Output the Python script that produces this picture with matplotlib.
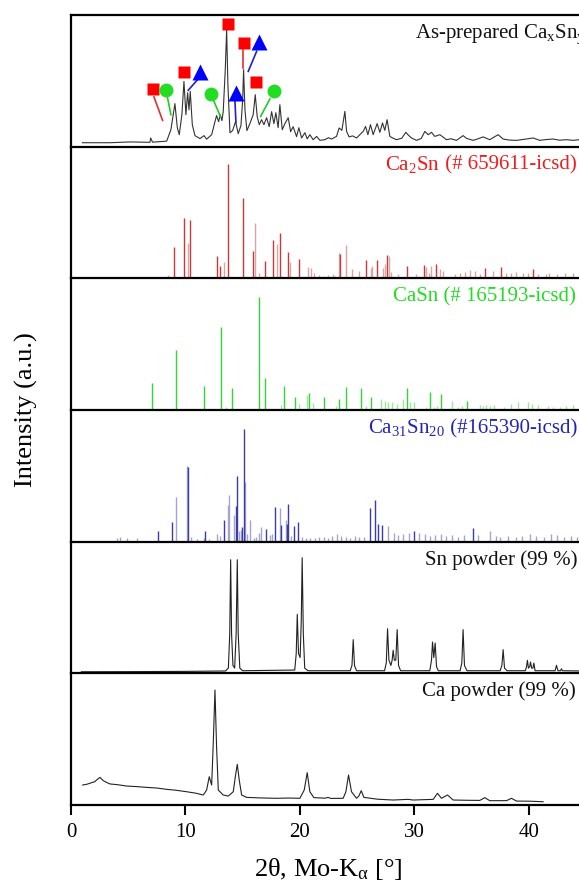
import matplotlib
matplotlib.use('Agg')
import matplotlib.pyplot as plt

plt.rcParams['font.family'] = ['Liberation Serif', 'DejaVu Serif']
plt.rcParams['mathtext.fontset'] = 'custom'
plt.rcParams['mathtext.rm'] = 'Liberation Serif'
plt.rcParams['mathtext.it'] = 'Liberation Serif:italic'

# --- as-prepared CaxSny pattern (2theta, intensity) ---
asprep = [(1.0, 3.0), (3.4, 3.0), (5.2, 3.6), (6.9, 3.3), (6.96, 6.6), (7.13, 3.4), (8.36, 4.2), (8.73, 12.9),
          (9.08, 32.7), (9.29, 14.4), (9.46, 9.1), (9.69, 24.3), (9.87, 49.6), (10.04, 24.3), (10.19, 41.0),
          (10.31, 28.0), (10.42, 42.0), (10.6, 16.7), (10.83, 8.4), (11.27, 6.1), (11.62, 8.4), (11.85, 5.7),
          (12.29, 9.1), (12.58, 19.0), (12.72, 23.6), (12.9, 19.0), (13.04, 24.3), (13.19, 19.8), (13.3, 26.6),
          (13.48, 58.5), (13.6, 88.9), (13.71, 47.1), (13.89, 10.6), (14.12, 12.2), (14.38, 19.0), (14.61, 9.9),
          (14.85, 16.0), (15.0, 35.7), (15.08, 58.5), (15.2, 28.0), (15.37, 12.2), (15.63, 17.5), (15.92, 24.3),
          (16.1, 39.5), (16.27, 22.8), (16.45, 16.7), (16.65, 20.5), (16.86, 16.7), (17.09, 22.0), (17.32, 15.2),
          (17.53, 26.6), (17.73, 17.5), (17.9, 25.8), (18.1, 14.4), (18.25, 31.9), (18.46, 12.9), (18.69, 17.5),
          (18.98, 22.0), (19.19, 11.4), (19.41, 15.2), (19.71, 7.6), (19.91, 14.4), (20.15, 6.6), (20.44, 10.6),
          (20.64, 5.9), (20.87, 9.1), (21.16, 5.3), (21.46, 7.8), (21.75, 4.8), (22.18, 5.3), (22.5, 6.8),
          (22.77, 5.8), (23.2, 7.8), (23.43, 14.2), (23.67, 12.4), (23.93, 26.8), (24.08, 11.6), (24.3, 7.4),
          (24.6, 8.2), (24.95, 6.6), (25.53, 11.6), (25.74, 15.4), (25.94, 9.1), (26.17, 16.7), (26.4, 9.1),
          (26.75, 17.5), (26.99, 10.9), (27.22, 18.0), (27.42, 12.4), (27.62, 20.5), (27.86, 7.8), (28.1, 6.6),
          (28.44, 5.3), (28.9, 6.4), (29.26, 10.9), (29.46, 8.9), (29.75, 6.6), (30.19, 4.8), (30.6, 6.2),
          (30.92, 11.6), (31.21, 9.1), (31.5, 10.9), (31.79, 7.8), (32.23, 9.1), (32.81, 5.3), (33.2, 6.0),
          (33.68, 4.8), (34.26, 8.4), (34.56, 6.3), (35.14, 4.8), (35.5, 5.8), (36.01, 7.4), (36.59, 5.3),
          (37.32, 9.1), (37.76, 5.8), (38.3, 5.0), (38.93, 4.8), (39.6, 5.6), (40.38, 6.6), (40.96, 4.8),
          (41.5, 5.4), (42.12, 5.8), (42.7, 4.9), (43.29, 5.3), (43.9, 4.8), (44.6, 5.5)]

# phase markers (square = Ca2Sn, circle = CaSn, triangle = Ca31Sn20)
sq_x = [7.13, 9.87, 13.69, 15.1, 16.16]
sq_y = [43.8, 56.5, 93.5, 78.8, 48.9]
circ_x = [8.3, 12.2, 17.73]
circ_y = [43.3, 40.0, 42.0]
tri_x = [11.27, 14.38, 16.42]
tri_y = [56.5, 40.8, 79.3]
red_leads = [[(7.25, 37.8), (8.0, 20.0)], [(15.05, 73.7), (15.05, 59.8)]]
green_leads = [[(8.41, 38.2), (8.73, 24.3)], [(12.43, 35.7), (13.07, 22.6)], [(17.38, 36.2), (16.57, 23.0)]]
blue_leads = [[(11.06, 50.9), (10.24, 42.8)], [(14.32, 36.2), (14.41, 18.5)], [(16.22, 72.4), (15.49, 57.2)]]

# --- reference stick patterns (position, rel. intensity) ---
ca2sn_main = [(9.03, 23.8), (9.87, 46.1), (10.42, 44.3), (12.78, 16.7), (13.04, 9.6), (13.74, 86.6),
              (15.05, 60.8), (15.92, 20.8), (16.97, 13.2), (17.67, 29.4), (18.28, 34.2), (18.93, 20.3),
              (19.94, 14.7), (23.49, 18.5), (25.74, 14.2), (26.75, 14.0), (27.57, 17.5), (29.37, 9.4),
              (30.86, 9.9), (31.88, 10.6), (36.16, 8.0), (37.61, 8.4), (40.38, 7.3)]
ca2sn_faint = [(8.44, 2.3), (10.25, 27.1), (13.33, 12.4), (16.07, 41.8), (16.39, 3.8), (17.96, 25.8),
               (19.13, 12.4), (20.7, 8.9), (20.96, 7.6), (21.22, 3.8), (21.7, 2.5), (22.1, 1.5), (22.5, 2.5),
               (22.9, 3.0), (23.1, 2.0), (23.38, 19.5), (24.02, 25.3), (24.51, 6.8), (25.15, 5.3), (26.17, 8.0),
               (26.32, 9.0), (27.28, 8.0), (27.42, 11.0), (27.75, 16.7), (28.0, 5.0), (28.6, 3.0), (30.13, 3.0),
               (31.06, 8.9), (31.3, 4.0), (31.5, 9.4), (32.23, 7.0), (32.52, 5.6), (33.54, 3.0), (33.97, 4.3),
               (34.41, 4.8), (34.85, 6.3), (35.28, 5.5), (35.7, 3.0), (36.88, 5.5), (38.05, 4.3), (38.49, 3.8),
               (38.92, 5.0), (39.5, 4.3), (39.94, 3.8), (40.8, 3.5), (41.5, 3.0), (41.8, 3.8), (42.5, 3.5),
               (43.2, 4.3), (43.9, 3.8)]

casn_main = [(7.04, 20.3), (9.14, 45.8), (11.64, 18.5), (13.07, 63.3), (14.09, 16.7), (16.45, 85.6),
             (16.91, 24.3), (18.63, 18.5), (19.59, 10.0), (20.81, 12.7), (22.07, 9.6), (23.43, 8.1),
             (24.02, 17.7), (25.3, 16.7), (26.23, 10.1), (29.32, 16.7), (31.35, 13.4), (32.37, 12.2),
             (34.61, 7.1)]
casn_faint = [(13.51, 2.5), (18.34, 4.0), (19.94, 4.6), (20.58, 11.4), (21.16, 5.6), (23.15, 3.3), (25.76, 3.3),
              (27.13, 8.1), (27.42, 7.1), (27.71, 6.1), (28.06, 6.1), (28.52, 4.6), (29.02, 8.4), (29.61, 5.8),
              (29.96, 5.8), (31.0, 2.5), (31.7, 2.5), (32.0, 3.0), (33.25, 6.6), (33.8, 2.5), (34.2, 3.0),
              (35.7, 3.5), (36.0, 3.0), (36.3, 3.5), (36.6, 3.0), (37.0, 3.5), (37.8, 2.5), (38.49, 4.6),
              (39.07, 5.8), (39.94, 5.8), (40.32, 4.6), (40.81, 4.1), (41.69, 3.3), (42.12, 2.5), (42.71, 2.5),
              (43.29, 3.3), (43.87, 4.1)]

ca31sn20_main = [(7.63, 8.4), (8.82, 15.0), (10.22, 56.5), (11.73, 7.8), (13.39, 16.7), (14.41, 26.8),
                 (14.53, 50.1), (14.96, 11.4), (15.14, 85.6), (17.03, 9.6), (17.85, 26.1), (18.39, 13.0),
                 (18.84, 13.4), (18.98, 28.6), (19.5, 12.2), (19.85, 14.7), (26.11, 25.6), (26.55, 31.6),
                 (26.86, 13.4), (27.16, 12.9), (29.95, 8.4), (35.14, 10.4)]
ca31sn20_faint = [(4.0, 3.0), (4.3, 3.5), (4.9, 2.5), (5.8, 3.0), (9.14, 33.7), (10.1, 57.7), (10.5, 3.8),
                  (11.0, 2.0), (11.6, 3.0), (12.1, 2.0), (12.72, 5.8), (13.01, 4.6), (13.68, 27.8), (13.77, 35.4),
                  (14.26, 20.5), (14.7, 8.4), (14.85, 8.9), (15.23, 45.6), (15.35, 5.8), (15.6, 16.7),
                  (15.95, 2.8), (16.2, 3.8), (16.45, 6.3), (16.59, 11.4), (17.4, 5.3), (17.6, 5.8), (18.22, 25.6),
                  (18.75, 16.5), (19.2, 4.6), (20.2, 3.8), (20.5, 2.5), (20.9, 3.0), (21.3, 2.5), (21.7, 3.3),
                  (22.1, 3.8), (22.5, 3.0), (22.8, 4.6), (23.2, 5.8), (23.6, 4.3), (24.0, 3.8), (24.4, 3.0),
                  (24.8, 4.6), (25.2, 3.3), (25.6, 3.8), (27.74, 12.2), (28.2, 6.3), (28.6, 5.3), (29.0, 6.1),
                  (29.5, 6.3), (30.38, 6.3), (30.96, 5.8), (31.4, 4.3), (31.8, 4.8), (32.3, 5.6), (32.8, 4.1),
                  (33.3, 5.3), (33.8, 3.3), (34.3, 4.8), (35.6, 5.3), (36.59, 7.8), (37.1, 4.3), (37.5, 3.8),
                  (38.2, 4.6), (38.9, 3.5), (39.4, 4.6), (40.1, 5.8), (40.6, 4.3), (41.3, 3.8), (41.9, 5.8),
                  (42.5, 4.8), (43.1, 3.5), (43.7, 4.6), (44.2, 3.3)]

# --- Sn powder pattern ---
sn_powder = [(0.9, 1.2), (5.0, 1.3), (10.0, 1.5), (13.5, 1.8), (13.75, 4.0), (13.87, 30.0), (13.95, 86.3),
             (14.03, 30.0), (14.15, 6.0), (14.3, 4.0), (14.43, 30.0), (14.53, 86.3), (14.61, 30.0),
             (14.75, 4.0), (15.0, 2.0), (19.55, 2.5), (19.68, 15.0), (19.77, 44.8), (19.88, 15.0),
             (20.02, 12.0), (20.12, 40.0), (20.2, 87.8), (20.3, 30.0), (20.42, 4.0), (20.7, 2.0), (24.4, 2.0),
             (24.55, 6.0), (24.66, 25.6), (24.77, 6.0), (24.95, 2.0), (27.4, 2.0), (27.55, 8.0), (27.66, 33.9),
             (27.78, 10.0), (27.95, 6.0), (28.06, 10.0), (28.15, 17.5), (28.25, 10.0), (28.38, 10.0),
             (28.5, 33.2), (28.62, 6.0), (28.8, 2.0), (31.35, 2.0), (31.5, 10.0), (31.59, 23.8), (31.7, 12.0),
             (31.82, 23.0), (31.94, 5.0), (32.1, 2.0), (34.0, 2.0), (34.15, 8.0), (34.26, 33.2), (34.38, 6.0),
             (34.6, 2.0), (37.5, 2.0), (37.65, 6.0), (37.76, 18.0), (37.88, 4.0), (38.1, 2.0), (39.7, 2.0),
             (39.8, 5.0), (39.88, 9.9), (39.97, 4.0), (40.08, 5.0), (40.15, 8.6), (40.25, 4.0), (40.36, 4.0),
             (40.44, 7.8), (40.55, 2.0), (42.3, 2.0), (42.42, 6.1), (42.55, 2.0), (42.78, 2.0), (42.85, 3.5),
             (42.95, 2.0), (44.6, 1.8)]

# --- Ca powder pattern ---
ca_powder = [(1.02, 15.2), (1.4, 15.8), (1.81, 17.0), (2.05, 17.6), (2.24, 19.0), (2.53, 21.0), (2.82, 18.5),
             (3.1, 17.2), (3.41, 16.0), (4.1, 15.4), (4.86, 14.4), (5.7, 14.0), (6.61, 13.4), (7.5, 12.9),
             (8.36, 11.9), (9.2, 11.2), (10.1, 10.1), (10.9, 9.0), (11.56, 7.6), (11.85, 11.4), (12.08, 21.5),
             (12.29, 15.2), (12.43, 46.8), (12.58, 87.3), (12.72, 44.3), (12.87, 11.4), (13.3, 7.6), (13.74, 6.8),
             (14.18, 10.1), (14.38, 22.8), (14.53, 30.9), (14.7, 19.0), (14.91, 7.6), (15.34, 5.8), (16.5, 5.4),
             (17.96, 5.1), (19.0, 5.3), (20.0, 5.1), (20.38, 11.4), (20.64, 24.6), (20.87, 10.1), (21.22, 5.6),
             (22.2, 5.2), (22.47, 5.8), (22.7, 5.0), (23.78, 5.1), (24.02, 10.1), (24.25, 22.8), (24.51, 10.1),
             (24.95, 5.1), (25.15, 6.8), (25.36, 10.9), (25.59, 5.8), (26.8, 4.4), (28.15, 3.8), (29.46, 4.3),
             (29.9, 3.8), (31.65, 4.3), (32.02, 8.9), (32.37, 5.1), (32.9, 7.6), (33.39, 3.8), (34.6, 3.6),
             (35.72, 3.5), (36.16, 5.6), (36.59, 3.3), (38.05, 3.3), (38.49, 5.1), (38.93, 3.0), (40.1, 2.9),
             (41.25, 2.5)]

# panel labels: formula part (mathtext) + plain part
label_formula = ['As-prepared Ca$_\\mathrm{x}$Sn$_\\mathrm{y}$',
                 'Ca$_\\mathrm{2}$Sn',
                 'CaSn (# 165193-icsd)',
                 'Ca$_\\mathrm{31}$Sn$_\\mathrm{20}$',
                 'Sn powder (99 %)',
                 'Ca powder (99 %)']
label_rest = ['', ' (# 659611-icsd)', '', ' (#165390-icsd)', '', '']
label_x = [30.1, 27.4, 28.15, 25.97, 30.9, 30.7]
label_colors = ['#111111', '#ee1c1c', '#22dd22', '#2424b4', '#111111', '#111111']

fig = plt.figure(figsize=(5.79, 8.89), dpi=100)
W, H = 579.0, 889.0
left, width = 71 / W, 515 / W
top_px, panel_px = 15.0, 131.67
axes = []
first_parts = []
for i in range(6):
    bottom = 1 - (top_px + panel_px * (i + 1)) / H
    ax = fig.add_axes([left, bottom, width, panel_px / H])
    ax.set_xlim(0, 45)
    ax.set_ylim(0, 100)
    ax.set_yticks([])
    ax.spines['right'].set_visible(False)
    ax.spines['left'].set_linewidth(1.6)
    ax.spines['top'].set_linewidth(1.6)
    ax.spines['bottom'].set_linewidth(1.6)
    if i < 5:
        ax.spines['bottom'].set_visible(False)
        ax.set_xticks([])
    t = ax.text(label_x[i], 0.825, label_formula[i], transform=ax.get_xaxis_transform(),
                fontsize=15, color=label_colors[i], ha='left', va='baseline', zorder=5)
    first_parts.append(t)
    axes.append(ax)

# panel 1: as-prepared sample with phase markers
ax = axes[0]
x, y = zip(*asprep)
ax.plot(x, y, color='#333333', lw=0.8)
for leads, c in [(red_leads, '#e03030'), (green_leads, '#22cc22'), (blue_leads, '#2020d0')]:
    for (x0, y0), (x1, y1) in leads:
        ax.plot([x0, x1], [y0, y1], color=c, lw=1.2)
ax.plot(sq_x, sq_y, 's', color='#ff0000', ms=8, mec='none')
ax.plot(circ_x, circ_y, 'o', color='#22dd22', ms=10, mec='none')
ax.plot(tri_x, tri_y, '^', color='#0000ff', ms=11, mec='none')

# panels 2-4: stick patterns
sticks = [(ca2sn_main, ca2sn_faint, '#c83a3a', '#dba5a5'),
          (casn_main, casn_faint, '#33d633', '#9ce89c'),
          (ca31sn20_main, ca31sn20_faint, '#3c3ca8', '#a4a4cf')]
for ax, (main, faint, c_main, c_faint) in zip(axes[1:4], sticks):
    xf, yf = zip(*faint)
    ax.vlines(xf, 0, yf, color=c_faint, lw=1.0)
    xm, ym = zip(*main)
    ax.vlines(xm, 0, ym, color=c_main, lw=1.0)

# panels 5-6: raw powders
x, y = zip(*sn_powder)
axes[4].plot(x, y, color='#222222', lw=0.8)
x, y = zip(*ca_powder)
axes[5].plot(x, y, color='#222222', lw=0.8)

ax = axes[5]
ax.set_xticks([0, 10, 20, 30, 40])
ax.tick_params(axis='x', direction='out', length=7, width=1.5, labelsize=15, pad=6)
ax.set_xlabel('2θ, Mo-K$_\\mathrm{α}$ [°]', fontsize=19, labelpad=10)
fig.text(26 / W, 1 - 410 / H, 'Intensity (a.u.)', rotation=90, fontsize=19,
         ha='center', va='center')

# plain-text tail of the labels, placed right after the formula part
# (mathtext mis-kerns some digit pairs, so the catalogue numbers stay plain text)
fig.canvas.draw()
renderer = fig.canvas.get_renderer()
for ax, t, rest, c in zip(axes, first_parts, label_rest, label_colors):
    if not rest:
        continue
    x_end = t.get_window_extent(renderer).x1
    x_data = ax.transData.inverted().transform((x_end, 0))[0]
    ax.text(x_data, 0.825, rest, transform=ax.get_xaxis_transform(),
            fontsize=15, color=c, ha='left', va='baseline', zorder=5)

fig.savefig('out.png', dpi=100)
